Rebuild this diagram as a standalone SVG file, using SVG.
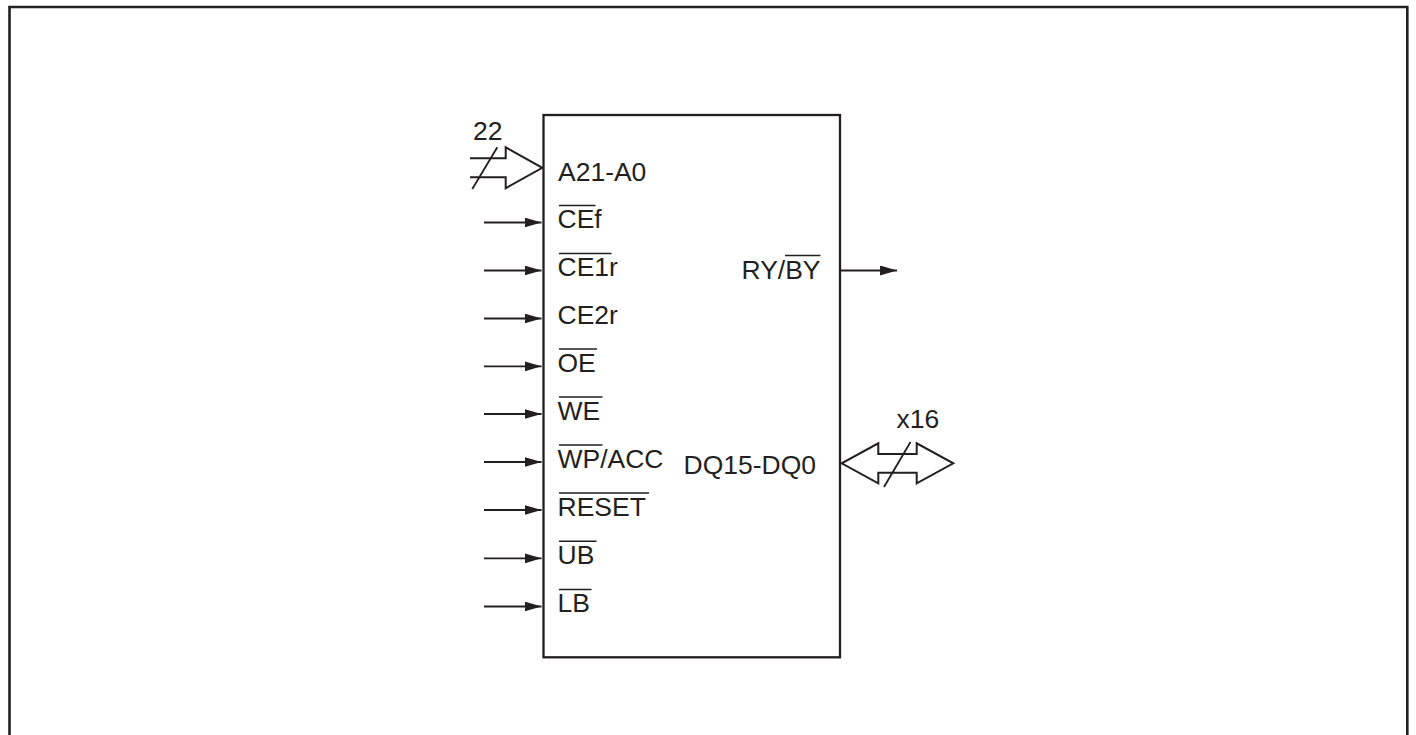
<svg xmlns="http://www.w3.org/2000/svg" width="1416" height="735" viewBox="0 0 1416 735">
<style>
.t{font-family:"Liberation Sans",Arial,Helvetica,sans-serif;font-size:25px;fill:#231f20}
.ln{stroke:#231f20;stroke-width:1.8;fill:none}
.ov{stroke:#231f20;stroke-width:1.6;fill:none}
.bus{stroke:#231f20;stroke-width:2;fill:none;stroke-linejoin:miter}
</style>
<defs>
<marker id="ah" markerUnits="userSpaceOnUse" markerWidth="18" markerHeight="11" refX="17" refY="5" orient="auto">
<path d="M0,0 L17,5 L0,10 Z" fill="#231f20"/>
</marker>
</defs>
<rect width="1416" height="735" fill="#ffffff"/>
<path d="M9.5,745 V7 H1407.3 V745" fill="none" stroke="#231f20" stroke-width="2.6"/>

<g id="chip">
<rect x="543.5" y="115" width="296.5" height="542.3" fill="none" stroke="#231f20" stroke-width="2.3"/>
</g>

<g id="connectors">
<line class="ln" x1="484" y1="222.5" x2="541.5" y2="222.5" marker-end="url(#ah)"/>
<line class="ln" x1="484" y1="270.5" x2="541.5" y2="270.5" marker-end="url(#ah)"/>
<line class="ln" x1="484" y1="318.5" x2="541.5" y2="318.5" marker-end="url(#ah)"/>
<line class="ln" x1="484" y1="366.3" x2="541.5" y2="366.3" marker-end="url(#ah)"/>
<line class="ln" x1="484" y1="414" x2="541.5" y2="414" marker-end="url(#ah)"/>
<line class="ln" x1="484" y1="462" x2="541.5" y2="462" marker-end="url(#ah)"/>
<line class="ln" x1="484" y1="510" x2="541.5" y2="510" marker-end="url(#ah)"/>
<line class="ln" x1="484" y1="558.3" x2="541.5" y2="558.3" marker-end="url(#ah)"/>
<line class="ln" x1="484" y1="606.5" x2="541.5" y2="606.5" marker-end="url(#ah)"/>
<line class="ln" x1="840" y1="270.5" x2="897" y2="270.5" marker-end="url(#ah)"/>
</g>

<g id="address-bus">
<path class="bus" d="M470,158.3 H505.7 V147.3 L542.3,167.8 L505.7,188.2 V177.3 H470"/>
<line class="ln" x1="472.3" y1="189" x2="497.3" y2="147.3"/>
<text class="t" transform="translate(473,140) scale(1.06,1)">22</text>
</g>

<g id="data-bus">
<path class="bus" d="M878.3,454 V443.3 L841.7,463.3 L878.3,483.3 V472.7 H916.7 V483.3 L953.3,463.3 L916.7,443.3 V454 Z"/>
<line class="ln" x1="884" y1="487" x2="910.5" y2="442"/>
<text class="t" transform="translate(896.5,428.3) scale(1.06,1)">x16</text>
</g>

<g id="labels">
<text class="t" transform="translate(558,181) scale(1.06,1)">A21-A0</text>
<text class="t" transform="translate(557.5,228.2) scale(1.06,1)">CEf</text>
<text class="t" transform="translate(557.5,276.2) scale(1.06,1)">CE1r</text>
<text class="t" transform="translate(557.5,324.2) scale(1.06,1)">CE2r</text>
<text class="t" transform="translate(557.5,372) scale(1.06,1)">OE</text>
<text class="t" transform="translate(557.5,419.7) scale(1.06,1)">WE</text>
<text class="t" transform="translate(557.5,467.7) scale(1.06,1)">WP/ACC</text>
<text class="t" transform="translate(557.5,515.7) scale(1.06,1)">RESET</text>
<text class="t" transform="translate(557.5,564) scale(1.06,1)">UB</text>
<text class="t" transform="translate(557.5,612.2) scale(1.06,1)">LB</text>
<text class="t" transform="translate(741.5,279.3) scale(1.06,1)">RY/BY</text>
<text class="t" transform="translate(683.5,474) scale(1.06,1)">DQ15-DQ0</text>
<line class="ov" x1="559" y1="205.5" x2="595.5" y2="205.5"/>
<line class="ov" x1="559" y1="253.5" x2="611.5" y2="253.5"/>
<line class="ov" x1="559" y1="349" x2="597" y2="349"/>
<line class="ov" x1="559" y1="397" x2="602.5" y2="397"/>
<line class="ov" x1="559" y1="445" x2="602.5" y2="445"/>
<line class="ov" x1="559" y1="493" x2="649" y2="493"/>
<line class="ov" x1="559" y1="541.2" x2="596.5" y2="541.2"/>
<line class="ov" x1="559" y1="589.5" x2="591.5" y2="589.5"/>
<line class="ov" x1="785" y1="255.5" x2="820.5" y2="255.5"/>
</g>
</svg>
